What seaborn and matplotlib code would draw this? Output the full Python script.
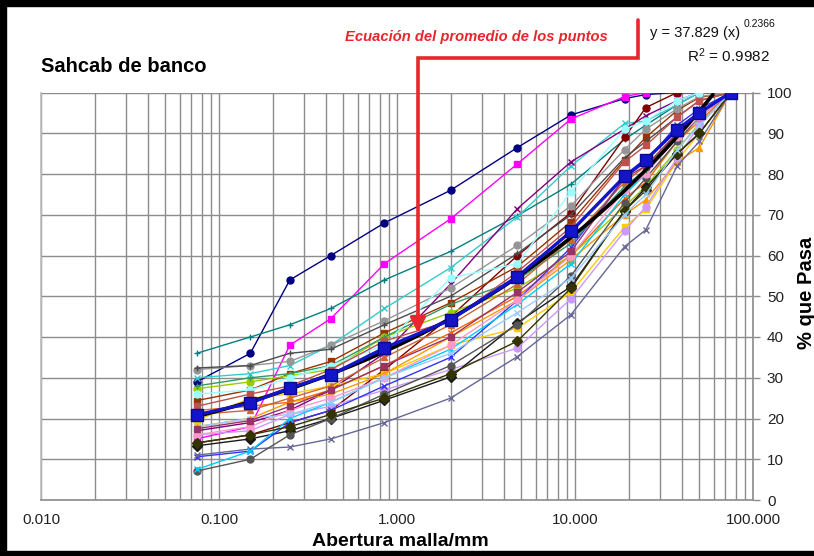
import numpy as np
import pandas as pd
import matplotlib
matplotlib.use("Agg")
import matplotlib.pyplot as plt
import seaborn as sns
from matplotlib.patches import Rectangle, FancyArrowPatch
from matplotlib.lines import Line2D
from matplotlib.ticker import LogLocator, NullFormatter, FuncFormatter, MultipleLocator

# ---------------- data ----------------
sieves = [0.075, 0.15, 0.25, 0.425, 0.85, 2.0, 4.75, 9.5, 19.0, 25.0, 37.5, 50.0, 75.0]

s_navy      = [29, 36, 54, 60, 68, 76, 86.5, 94.5, 98.5, 99.5, 100, 100, 100]
s_magenta   = [15, 18, 38, 44.5, 58, 69, 82.5, 93.5, 99, 100, 100, 100, 100]
s_teal      = [36, 40, 43, 47, 54, 61, 69.8, 77.5, 88.5, 92, 97, 100, 100]
s_cyan      = [30, 31, 33, 38, 47, 57, 69.5, 82, 92.4, 93, 97, 100, 100]
s_purple    = [17, 19, 22, 27, 36, 53, 71.5, 83, 91, 94.3, 98, 100, 100]
s_darkred   = [14, 16, 19, 22, 32, 45, 60, 70.5, 89, 96.3, 100, 100, 100]
s_brown     = [24.4, 27, 31, 34, 41, 48.4, 57.3, 68.3, 83.5, 89, 95.6, 98.8, 100]
s_grey      = [32, 33, 34, 38, 44, 52, 62.5, 72.2, 86, 91, 96, 99, 100]
s_dkgrey    = [32.4, 33, 36, 37, 43, 50, 60.5, 70, 84, 88, 94, 98, 100]
s_lime      = [27.3, 29, 30.5, 32, 40, 46, 52, 60, 72, 77, 86, 92.4, 100]
s_orange    = [22, 23, 24, 27, 33, 41, 50, 60, 74, 78, 88, 93, 100]
s_gold      = [19.5, 25, 26, 28, 31, 38, 42.2, 51, 67, 71.3, 83.3, 90, 100]
s_orange2   = [18, 20, 24, 26, 31, 40, 49, 59, 70, 73.7, 83, 86.5, 100]
s_lavender  = [16, 17, 21, 23, 27, 32, 37.3, 49.4, 66, 72, 84, 92, 100]
s_black     = [13.3, 15, 17, 20, 24.5, 30.2, 43.5, 52.4, 71, 76.7, 85, 90, 100]
s_blue      = [10.6, 12, 19, 22, 28, 35, 49, 62, 79, 83, 92, 96, 100]
s_slate     = [11, 12.5, 13, 15, 19, 25, 35.2, 45.5, 62.2, 66.3, 82, 88, 100]
s_charcoal  = [7.1, 10, 16, 20, 26, 33, 43, 55, 73, 79, 88, 94, 100]
s_sky       = [7.5, 12, 20, 24, 30, 37, 48, 58, 75, 80, 90, 95, 100]
s_rose      = [16, 18, 22, 25, 30, 38, 49, 60, 76, 80, 89, 94, 100]
s_seagreen  = [28, 30, 31, 33, 40, 48, 54, 63, 77, 81, 90, 95, 100]
s_olive     = [14, 16, 18, 21, 25, 31, 39, 52, 71, 76, 85, 90, 100]
s_rust      = [21, 22, 25, 28, 35, 43, 53, 64, 78, 82, 90, 95, 100]
s_ltblue    = [18, 20, 21, 24, 30, 36, 46, 54.5, 70, 75, 86, 92, 100]
s_pale      = [26, 27, 30, 33, 38, 54.5, 58, 75.7, 91, 93, 98, 100, 100]
s_red       = [23, 26, 28, 32, 39, 44, 56, 67, 83, 87, 94, 98, 100]
s_plum      = [17.5, 19.5, 23, 27, 33, 40, 51, 61, 79, 82, 90, 95, 100]

average     = [20.9, 23.8, 27.5, 30.7, 37.3, 44.2, 54.8, 65.9, 79.4, 83.5, 90.9, 95, 100]

FIT_A, FIT_B, FIT_R2 = 37.829, 0.2366, 0.9982

samples = {
    "navy": s_navy, "magenta": s_magenta, "teal": s_teal, "cyan": s_cyan,
    "purple": s_purple, "darkred": s_darkred, "brown": s_brown, "grey": s_grey,
    "dkgrey": s_dkgrey, "lime": s_lime, "orange": s_orange, "gold": s_gold,
    "orange2": s_orange2, "lavender": s_lavender, "black": s_black, "blue": s_blue,
    "slate": s_slate, "charcoal": s_charcoal, "sky": s_sky, "rose": s_rose,
    "seagreen": s_seagreen, "olive": s_olive, "rust": s_rust, "ltblue": s_ltblue,
    "pale": s_pale, "red": s_red, "plum": s_plum,
}
colors = {
    "navy": "#000080", "magenta": "#FF00FF", "teal": "#008080", "cyan": "#33CCCC",
    "purple": "#800080", "darkred": "#800000", "brown": "#993300", "grey": "#969696",
    "dkgrey": "#4D4D4D", "lime": "#99CC00", "orange": "#FF6600", "gold": "#FFCC00",
    "orange2": "#FF9900", "lavender": "#CC99FF", "black": "#1A1A1A", "blue": "#3333FF",
    "slate": "#666699", "charcoal": "#555555", "sky": "#00CCFF", "rose": "#FF99CC",
    "seagreen": "#339966", "olive": "#333300", "rust": "#CC6633", "ltblue": "#99CCFF",
    "pale": "#99FFFF", "red": "#C0504D", "plum": "#993366",
}
markers = {
    "navy": "o", "magenta": "s", "teal": "+", "cyan": "x", "purple": "x",
    "darkred": "o", "brown": "s", "grey": "o", "dkgrey": "+", "lime": "o",
    "orange": "x", "gold": "s", "orange2": "^", "lavender": "o", "black": "D",
    "blue": "x", "slate": "x", "charcoal": "o", "sky": "x", "rose": "o",
    "seagreen": "+", "olive": "D", "rust": "^", "ltblue": "x", "pale": "o",
    "red": "s", "plum": "s",
}

rows = [(name, s, v) for name, vals in samples.items() for s, v in zip(sieves, vals)]
df = pd.DataFrame(rows, columns=["muestra", "abertura", "pasa"])
df_avg = pd.DataFrame({"abertura": sieves, "pasa": average})

# ---------------- figure ----------------
sns.set_style("white")
plt.rcParams['font.family'] = ['Liberation Sans', 'DejaVu Sans']
plt.rcParams['mathtext.default'] = 'regular'

W, H = 814, 556
fig = plt.figure(figsize=(W / 100, H / 100), dpi=100)
ax = fig.add_axes([41 / W, 56 / H, 712 / W, 407.5 / H])

for name, sub in df.groupby("muestra", sort=False):
    c = colors[name]
    sns.lineplot(data=sub, x="abertura", y="pasa", color=c, marker=markers[name],
                 markersize=5, markeredgecolor=c, markeredgewidth=1.0,
                 linewidth=1.0, sort=False, ax=ax, zorder=3)

# power trendline from the chart's equation
xf = np.logspace(np.log10(sieves[0]), np.log10(sieves[-1]), 300)
yf = FIT_A * xf ** FIT_B
mask = yf <= 100
ax.plot(xf[mask], yf[mask], color="black", lw=2.6, zorder=4)

# average series
sns.lineplot(data=df_avg, x="abertura", y="pasa", color="#1414C8", lw=2.4,
             marker="s", markersize=8, markeredgecolor="#0A0A90",
             markeredgewidth=1, sort=False, ax=ax, zorder=5)

ax.set_xscale("log")
ax.set_xlim(0.01, 100)
ax.set_ylim(0, 100)
ax.xaxis.set_major_locator(LogLocator(base=10))
ax.xaxis.set_minor_locator(LogLocator(base=10, subs=np.arange(2, 10)))
ax.xaxis.set_minor_formatter(NullFormatter())
ax.xaxis.set_major_formatter(FuncFormatter(lambda v, p: f"{v:.3f}"))
ax.yaxis.set_major_locator(MultipleLocator(10))
ax.grid(which="both", axis="x", color="#8C8C8C", lw=1.0, zorder=0)
ax.grid(which="major", axis="y", color="#8C8C8C", lw=1.0, zorder=0)
ax.set_axisbelow(True)

ax.yaxis.tick_right()
ax.tick_params(axis="y", which="major", direction="out", length=5, width=1,
               color="#8C8C8C", labelsize=11, labelcolor="#222222", pad=5,
               right=True, left=False)
ax.tick_params(axis="x", which="both", length=0, labelsize=11,
               labelcolor="#222222", pad=9)
ax.set_xlabel("")
ax.set_ylabel("")
ax.spines["top"].set_visible(False)
ax.spines["left"].set_color("#BBBBBB")
ax.spines["bottom"].set_color("#8C8C8C")
ax.spines["right"].set_color("#8C8C8C")
for sp in ax.spines.values():
    sp.set_linewidth(1.2)

def fx(px):
    return px / W

def fy(py):
    return 1 - py / H

fig.text(fx(41), fy(67), "Sahcab de banco", fontsize=14.5, fontweight="heavy",
         va="center", ha="left", color="black")
fig.text(fx(400), fy(541), "Abertura malla/mm", fontsize=14, fontweight="heavy",
         va="center", ha="center", color="black")
fig.text(fx(806), fy(293), "% que Pasa", fontsize=14.5, fontweight="heavy",
         va="center", ha="center", rotation=90, color="black")

fig.text(fx(650), fy(33), f"y = {FIT_A:.3f} (x)", fontsize=10.5, va="center",
         ha="left", color="#111111")
fig.text(fx(744), fy(24), f"{FIT_B:.4f}", fontsize=7.5, va="center",
         ha="left", color="#111111")
fig.text(fx(770), fy(56), f"R$^2$ = {FIT_R2:.4f}", fontsize=11, va="center",
         ha="right", color="#111111")

red = "#E8262B"
fig.text(fx(345), fy(37), "Ecuación del promedio de los puntos", fontsize=10.6,
         fontweight="bold", fontstyle="italic", color=red, va="center", ha="left")

fig.add_artist(Line2D([fx(638), fx(638), fx(418), fx(418)],
                      [fy(20), fy(58), fy(58), fy(320)],
                      transform=fig.transFigure, color=red, lw=2.6,
                      solid_joinstyle="miter"))
fig.add_artist(FancyArrowPatch((fx(418), fy(312)), (fx(418), fy(336)),
                               transform=fig.transFigure, color=red,
                               arrowstyle="-|>,head_length=6,head_width=3",
                               lw=2.6, mutation_scale=1.5))

# black frame of the picture (left, top, bottom)
for (x0, y0, w, h) in [(0, 0, 6, H), (0, 0, W, 6), (0, H - 5, W, 5)]:
    fig.add_artist(Rectangle((x0 / W, 1 - (y0 + h) / H), w / W, h / H,
                             transform=fig.transFigure, color="black", zorder=20))

fig.savefig("out.png", dpi=100)
